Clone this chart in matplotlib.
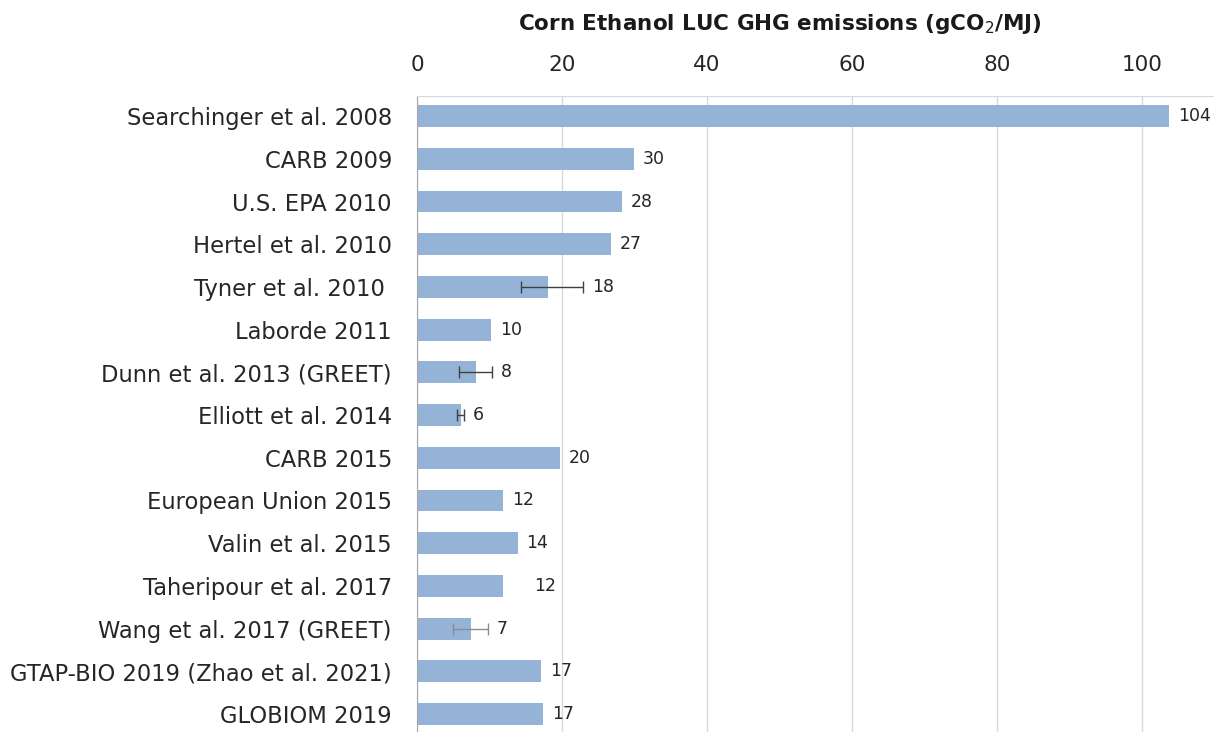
import matplotlib.pyplot as plt
import numpy as np

plt.rcParams['font.family'] = ['DejaVu Sans']

studies = ['Searchinger et al. 2008', 'CARB 2009', 'U.S. EPA 2010', 'Hertel et al. 2010',
           'Tyner et al. 2010 ', 'Laborde 2011', 'Dunn et al. 2013 (GREET)',
           'Elliott et al. 2014', 'CARB 2015', 'European Union 2015', 'Valin et al. 2015',
           'Taheripour et al. 2017', 'Wang et al. 2017 (GREET)',
           'GTAP-BIO 2019 (Zhao et al. 2021)', 'GLOBIOM 2019']
values = [103.7, 29.9, 28.3, 26.8, 18.1, 10.2, 8.1, 6.0, 19.7, 11.9, 13.9, 11.9, 7.4, 17.1, 17.4]
labels = ['104', '30', '28', '27', '18', '10', '8', '6', '20', '12', '14', '12', '7', '17', '17']
# error ranges (low, high) for studies that report one
err_low = [None, None, None, None, 14.3, None, 5.8, 5.5, None, None, None, None, 5.0, None, None]
err_high = [None, None, None, None, 22.9, None, 10.3, 6.5, None, None, None, None, 9.8, None, None]

bar_color = '#95b3d7'
text_color = '#262626'

fig = plt.figure(figsize=(12.14, 7.32), dpi=100)
ax = fig.add_axes([417 / 1214, 0, 797 / 1214, 636 / 732])

y = np.arange(len(studies))
ax.barh(y, values, height=0.51, color=bar_color, zorder=2)

for i in range(len(studies)):
    end = values[i]
    if err_low[i] is not None:
        c = '#8c8c8c' if i == 12 else '#404040'
        ax.errorbar(values[i], i, xerr=[[values[i] - err_low[i]], [err_high[i] - values[i]]],
                    fmt='none', ecolor=c, elinewidth=1, capsize=4, capthick=1, zorder=3)
        end = err_high[i]
    pad = 1.2
    if studies[i].startswith('Taheripour'):
        pad = 4.2
    ax.text(end + pad, i, labels[i], va='center', ha='left', fontsize=12.5, color=text_color)

ax.set_xlim(0, 109.9)
ax.set_ylim(len(studies) - 0.58, -0.47)
ax.set_yticks(y)
ax.set_yticklabels(studies, fontsize=16.3, color=text_color)
ax.set_xticks(np.arange(0, 101, 20))
ax.xaxis.tick_top()
ax.tick_params(axis='x', length=0, pad=15, labelsize=15.5, labelcolor=text_color)
ax.tick_params(axis='y', length=0, pad=18)
ax.grid(axis='x', color='#d9d9d9', linewidth=1, zorder=0)
ax.set_axisbelow(True)
for s in ['right', 'bottom']:
    ax.spines[s].set_visible(False)
ax.spines['top'].set_color('#d9d9d9')
ax.spines['left'].set_color('#a6a6a6')

fig.text(780 / 1214, 1 - 24 / 732, r'Corn Ethanol LUC GHG emissions (gCO$_2$/MJ)',
         ha='center', va='center', fontsize=15.5, fontweight='bold', color='#1a1a1a')

fig.savefig('out.png', dpi=100)
